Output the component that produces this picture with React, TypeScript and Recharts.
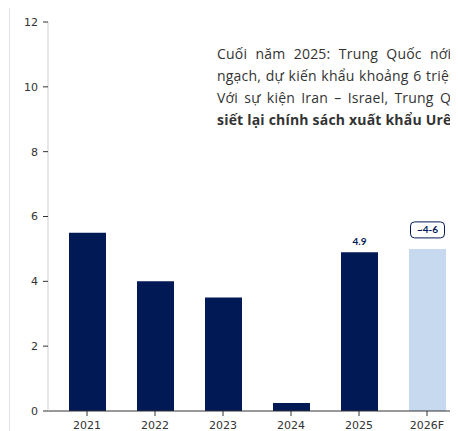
import { BarChart, Bar, XAxis, YAxis, Cell, LabelList } from 'recharts';

const years = ['2021', '2022', '2023', '2024', '2025', '2026F'];
const exportVolume = [5.5, 4.0, 3.5, 0.25, 4.9, 5.0];
const barLabels = ['', '', '', '', '4.9', '~4-6'];
const yTicks = [0, 2, 4, 6, 8, 10, 12];
const forecastYear = '2026F';

const noteLines = [
    'Cuối năm 2025: Trung Quốc nới lỏng hạn',
    'ngạch, dự kiến khẩu khoảng 6 triệu tấn.',
    'Với sự kiện Iran – Israel, Trung Quốc có thể',
    'siết lại chính sách xuất khẩu Urê',
];
// the original paragraph is justified, so each line gets its own spacing
const lineWordSpacing = [4.5, 0.8, 2.4, 0];

const NAVY = '#011a55';
const LIGHT = '#c6d9ee';
const TICK_FONT = { fontSize: 11, fill: '#333', fontFamily: 'DejaVu Sans' };

const data = years.map((year, i) => ({
    year,
    value: exportVolume[i],
    label: barLabels[i],
}));

// "4.9" is plain text, the forecast gets a small rounded box
function BarTag(props: any) {
    const { x, y, width, value, index } = props;
    if (!value) return null;
    const cx = x + width / 2;
    if (data[index].year === forecastYear) {
        const w = 34;
        const h = 16;
        return (
            <g>
                <rect x={cx - w / 2} y={y - 11 - h} width={w} height={h} rx={4}
                    fill="#fff" stroke={NAVY} strokeWidth={1} />
                <text x={cx} y={y - 11 - h / 2} dy="0.35em" textAnchor="middle"
                    fontSize={10} fontWeight="bold" fill={NAVY} fontFamily="Lato">
                    {value}
                </text>
            </g>
        );
    }
    return (
        <text x={cx} y={y - 7} textAnchor="middle" fontSize={10} fontWeight="bold"
            fill={NAVY} fontFamily="Lato">
            {value}
        </text>
    );
}

export default function App() {
    return (
        <div style={{
            position: 'relative', width: 448, height: 423, overflow: 'hidden',
            marginLeft: 1, borderLeft: '1px solid #e3e3ec', background: '#fff',
        }}>
            <BarChart width={451} height={430} data={data}
                margin={{ top: 14, right: 0, bottom: 0, left: 0 }}>
                <XAxis dataKey="year" height={27} padding={{ left: 5, right: 0 }}
                    axisLine={{ stroke: '#333' }} tickLine={{ stroke: '#333' }}
                    tickSize={5} tickMargin={5} tick={TICK_FONT} interval={0} />
                <YAxis width={38} domain={[0, 12]} ticks={yTicks} interval={0}
                    axisLine={{ stroke: '#cfcfcf' }} tickLine={{ stroke: '#333' }}
                    tickSize={5} tickMargin={5} tick={TICK_FONT} />
                <Bar dataKey="value" barSize={37} isAnimationActive={false}>
                    {data.map((d) => (
                        <Cell key={d.year} fill={d.year === forecastYear ? LIGHT : NAVY} />
                    ))}
                    <LabelList dataKey="label" content={BarTag} />
                </Bar>
            </BarChart>
            <div style={{
                position: 'absolute', left: 207, top: 35, width: 300,
                fontFamily: '"Open Sans", sans-serif', fontSize: 14, lineHeight: '22px',
                letterSpacing: 0.2, color: '#333', whiteSpace: 'nowrap',
            }}>
                {noteLines.map((line, i) => (
                    <div key={i} style={{
                        fontWeight: i === noteLines.length - 1 ? 700 : 400,
                        wordSpacing: lineWordSpacing[i],
                    }}>
                        {line}
                    </div>
                ))}
            </div>
        </div>
    );
}
